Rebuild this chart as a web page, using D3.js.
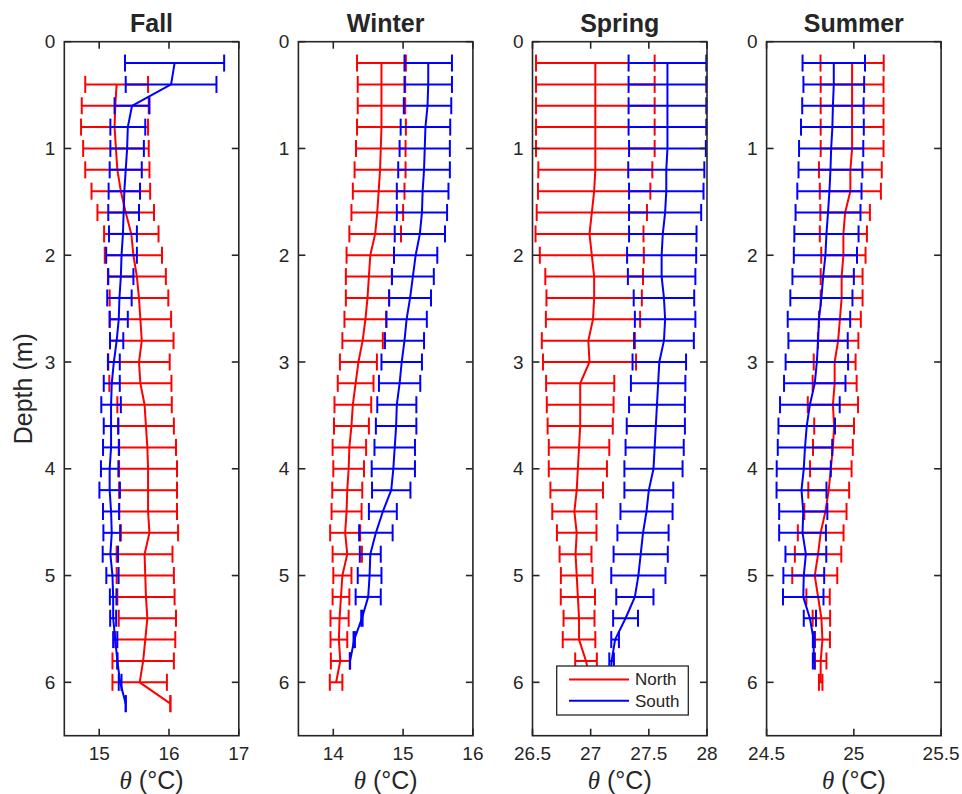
<!DOCTYPE html>
<html>
<head>
<meta charset="utf-8">
<script src="https://cdn.jsdelivr.net/npm/d3@7"></script>
<style>
  html, body { margin: 0; padding: 0; background: #fff; }
  svg { display: block; }
  text { font-family: "Liberation Sans", Arial, Helvetica, sans-serif; fill: #262626; }
</style>
</head>
<body>
<svg id="chart" width="962" height="794"></svg>
<script>
// ---------------- DATA ----------------
const depths = [0.2,0.4,0.6,0.8,1.0,1.2,1.4,1.6,1.8,2.0,2.2,2.4,2.6,2.8,3.0,3.2,3.4,3.6,3.8,4.0,4.2,4.4,4.6,4.8,5.0,5.2,5.4,5.6,5.8,6.0,6.2];
const depthTicks = [0,1,2,3,4,5,6];
const seasons = ["Fall","Winter","Spring","Summer"];
const seriesNames = ["North","South"];

const fallDomain = [14.5,17],  fallTicks = [15,16,17];
const winterDomain = [13.5,16], winterTicks = [14,15,16];
const springDomain = [26.5,28], springTicks = [26.5,27,27.5,28];
const summerDomain = [24.5,25.5], summerTicks = [24.5,25,25.5];

// Fall
const fallNorthMean = [null,15.25,15.23,15.22,15.24,15.26,15.31,15.38,15.46,15.49,15.54,15.57,15.59,15.61,15.57,15.59,15.65,15.67,15.69,15.70,15.70,15.70,15.72,15.65,15.66,15.67,15.69,15.66,15.63,15.58,16.02];
const fallNorthErr  = [null,0.45,0.48,0.48,0.47,0.46,0.42,0.405,0.39,0.41,0.415,0.42,0.44,0.455,0.44,0.445,0.39,0.40,0.41,0.415,0.415,0.415,0.41,0.40,0.41,0.41,0.41,0.43,0.44,0.39,0];
const fallSouthMean = [16.08,16.03,15.47,15.41,15.40,15.38,15.36,15.35,15.34,15.32,15.31,15.29,15.28,15.25,15.21,15.18,15.17,15.17,15.17,15.15,15.15,15.17,15.18,15.16,15.19,15.20,15.20,15.23,15.26,15.30,15.38];
const fallSouthErr  = [0.71,0.65,0.25,0.25,0.24,0.23,0.225,0.22,0.20,0.22,0.18,0.175,0.13,0.095,0.085,0.115,0.14,0.105,0.115,0.125,0.147,0.116,0.12,0.11,0.088,0.047,0.043,0.03,0,0.02,0];

// Winter
const winterNorthMean = [14.69,14.69,14.69,14.69,14.68,14.67,14.65,14.63,14.60,14.53,14.51,14.49,14.46,14.42,14.36,14.32,14.28,14.26,14.23,14.22,14.20,14.19,14.17,14.20,14.13,14.11,14.09,14.08,14.10,14.04,null];
const winterNorthErr  = [0.35,0.34,0.34,0.35,0.355,0.365,0.37,0.37,0.37,0.34,0.33,0.31,0.30,0.29,0.265,0.256,0.263,0.25,0.24,0.22,0.215,0.215,0.215,0.21,0.13,0.12,0.13,0.12,0.135,0.09,null];
const winterSouthMean = [15.36,15.36,15.35,15.32,15.31,15.30,15.28,15.27,15.24,15.18,15.14,15.10,15.05,15.02,14.98,14.95,14.91,14.90,14.88,14.86,14.83,14.71,14.61,14.53,14.52,14.50,14.41,14.30,14.24,null,null];
const winterSouthErr  = [0.34,0.34,0.34,0.355,0.36,0.37,0.37,0.36,0.36,0.31,0.30,0.30,0.29,0.28,0.29,0.296,0.28,0.29,0.29,0.31,0.275,0.20,0.24,0.15,0.17,0.18,0.01,0.01,0,null,null];

// Spring
const springNorthMean = [27.04,27.04,27.04,27.04,27.04,27.04,27.03,27.01,26.99,27.01,27.03,27.03,27.02,26.98,26.99,26.91,26.91,26.91,26.90,26.89,26.88,26.86,26.88,26.87,26.88,26.89,26.90,26.90,26.96,27.00,null];
const springNorthErr  = [0.51,0.51,0.51,0.51,0.51,0.49,0.483,0.474,0.464,0.447,0.42,0.41,0.405,0.40,0.40,0.293,0.287,0.28,0.26,0.25,0.226,0.19,0.17,0.137,0.136,0.147,0.133,0.14,0.093,0.08,null];
const springSouthMean = [27.66,27.66,27.66,27.66,27.66,27.65,27.65,27.64,27.62,27.61,27.61,27.63,27.64,27.63,27.59,27.58,27.57,27.56,27.55,27.54,27.50,27.48,27.45,27.43,27.41,27.38,27.30,27.21,27.18,27.17,null];
const springSouthErr  = [0.334,0.334,0.334,0.334,0.33,0.327,0.32,0.31,0.29,0.297,0.29,0.26,0.26,0.257,0.23,0.234,0.24,0.25,0.25,0.25,0.21,0.224,0.22,0.233,0.233,0.16,0.107,0.033,0.02,0.02,null];

// Summer
const summerNorthMean = [24.99,24.99,24.99,24.99,24.99,24.98,24.98,24.95,24.94,24.94,24.93,24.93,24.92,24.91,24.89,24.89,24.88,24.887,24.88,24.868,24.856,24.837,24.81,24.795,24.776,24.795,24.814,24.82,24.81,24.81,null];
const summerNorthErr  = [0.181,0.18,0.18,0.18,0.18,0.18,0.175,0.142,0.135,0.127,0.12,0.12,0.12,0.116,0.12,0.126,0.144,0.114,0.114,0.119,0.117,0.121,0.131,0.133,0.129,0.067,0.05,0.043,0.033,0.01,null];
const summerSouthMean = [24.885,24.885,24.88,24.877,24.87,24.866,24.86,24.852,24.843,24.837,24.824,24.814,24.80,24.795,24.788,24.776,24.748,24.73,24.72,24.713,24.70,24.71,24.706,24.725,24.713,24.71,24.748,24.77,24.77,null,null];
const summerSouthErr  = [0.179,0.174,0.176,0.18,0.184,0.183,0.184,0.186,0.184,0.181,0.176,0.178,0.179,0.17,0.179,0.176,0.171,0.162,0.156,0.155,0.143,0.138,0.134,0.117,0.117,0.116,0.035,0.005,0.005,null,null];

const colors = { North: "#ff0000", South: "#0000ff" };

// ---------------- LAYOUT ----------------
const panelDefs = [
  { title: seasons[0], domain: fallDomain,   ticks: fallTicks,   series: [[fallNorthMean, fallNorthErr],[fallSouthMean, fallSouthErr]] },
  { title: seasons[1], domain: winterDomain, ticks: winterTicks, series: [[winterNorthMean, winterNorthErr],[winterSouthMean, winterSouthErr]] },
  { title: seasons[2], domain: springDomain, ticks: springTicks, series: [[springNorthMean, springNorthErr],[springSouthMean, springSouthErr]] },
  { title: seasons[3], domain: summerDomain, ticks: summerTicks, series: [[summerNorthMean, summerNorthErr],[summerSouthMean, summerSouthErr]] }
];

const panelLeft0 = 64.3, panelStep = 234.1, panelW = 174.5;
const yTop = 41.7, yBottom = 735.7;
const tickLen = 7, capHalf = 8.5;
const axisColor = "#262626";
const dataW = 2, axisW = 1.6;

const svg = d3.select("#chart");
svg.append("rect").attr("width", 962).attr("height", 794).attr("fill", "#fff");

const y = d3.scaleLinear().domain([0, 6.5]).range([yTop, yBottom]);

panelDefs.forEach((p, pi) => {
  const left = panelLeft0 + pi * panelStep;
  const x = d3.scaleLinear().domain(p.domain).range([left, left + panelW]);
  const g = svg.append("g");

  // data
  p.series.forEach(([means, errs], si) => {
    const col = colors[seriesNames[si]];
    const pts = depths.map((d, i) => ({ d, m: means[i], e: errs[i] }));
    const valid = pts.filter(q => q.m != null);
    const eg = g.append("g").attr("stroke", col).attr("stroke-width", dataW).attr("fill", "none");
    valid.forEach(q => {
      const x0 = x(q.m - q.e), x1 = x(q.m + q.e), yy = y(q.d);
      eg.append("line").attr("x1", x0).attr("x2", x1).attr("y1", yy).attr("y2", yy);
      eg.append("line").attr("x1", x0).attr("x2", x0).attr("y1", yy - capHalf).attr("y2", yy + capHalf);
      eg.append("line").attr("x1", x1).attr("x2", x1).attr("y1", yy - capHalf).attr("y2", yy + capHalf);
    });
    const line = d3.line().defined(q => q.m != null).x(q => x(q.m)).y(q => y(q.d));
    g.append("path").datum(pts).attr("d", line).attr("fill", "none")
      .attr("stroke", col).attr("stroke-width", dataW).attr("stroke-linejoin", "round");
  });

  // axes box
  g.append("rect").attr("x", left).attr("y", yTop).attr("width", panelW).attr("height", yBottom - yTop)
    .attr("fill", "none").attr("stroke", axisColor).attr("stroke-width", axisW);

  // y ticks (left & right, inward)
  depthTicks.forEach(t => {
    const yy = y(t);
    g.append("line").attr("x1", left).attr("x2", left + tickLen).attr("y1", yy).attr("y2", yy)
      .attr("stroke", axisColor).attr("stroke-width", axisW);
    g.append("line").attr("x1", left + panelW - tickLen).attr("x2", left + panelW).attr("y1", yy).attr("y2", yy)
      .attr("stroke", axisColor).attr("stroke-width", axisW);
    g.append("text").attr("x", left - 9).attr("y", yy).attr("dy", "0.35em")
      .attr("text-anchor", "end").attr("font-size", 19).text(String(t));
  });

  // x ticks (top & bottom, inward)
  p.ticks.forEach(t => {
    const xx = x(t);
    g.append("line").attr("x1", xx).attr("x2", xx).attr("y1", yTop).attr("y2", yTop + tickLen)
      .attr("stroke", axisColor).attr("stroke-width", axisW);
    g.append("line").attr("x1", xx).attr("x2", xx).attr("y1", yBottom - tickLen).attr("y2", yBottom)
      .attr("stroke", axisColor).attr("stroke-width", axisW);
    g.append("text").attr("x", xx).attr("y", 760).attr("text-anchor", "middle")
      .attr("font-size", 19).text(String(t));
  });

  // title
  g.append("text").attr("x", left + panelW / 2).attr("y", 31.5).attr("text-anchor", "middle")
    .attr("font-size", 25).attr("font-weight", "bold").attr("fill", "#000").text(p.title);

  // x label
  const xl = g.append("text").attr("x", left + panelW / 2).attr("y", 789).attr("text-anchor", "middle")
    .attr("font-size", 25);
  xl.append("tspan").attr("font-family", "'Liberation Serif', 'Times New Roman', serif")
    .attr("font-style", "italic").text("θ");
  xl.append("tspan").text(" (°C)");

  // legend in Spring panel
  if (pi === 2) {
    const lg = g.append("g");
    lg.append("rect").attr("x", 556.7).attr("y", 666).attr("width", 131.6).attr("height", 49)
      .attr("fill", "#fff").attr("stroke", axisColor).attr("stroke-width", 1.3);
    seriesNames.forEach((n, k) => {
      const ly = 679.5 + k * 21.2;
      lg.append("line").attr("x1", 569).attr("x2", 629).attr("y1", ly).attr("y2", ly)
        .attr("stroke", colors[n]).attr("stroke-width", dataW);
      lg.append("text").attr("x", 635).attr("y", ly).attr("dy", "0.35em")
        .attr("font-size", 17).attr("fill", "#000").text(n);
    });
  }
});

// y label
svg.append("text").attr("transform", `translate(31.5,${(yTop + yBottom) / 2}) rotate(-90)`)
  .attr("text-anchor", "middle").attr("font-size", 25).text("Depth (m)");
</script>
</body>
</html>
